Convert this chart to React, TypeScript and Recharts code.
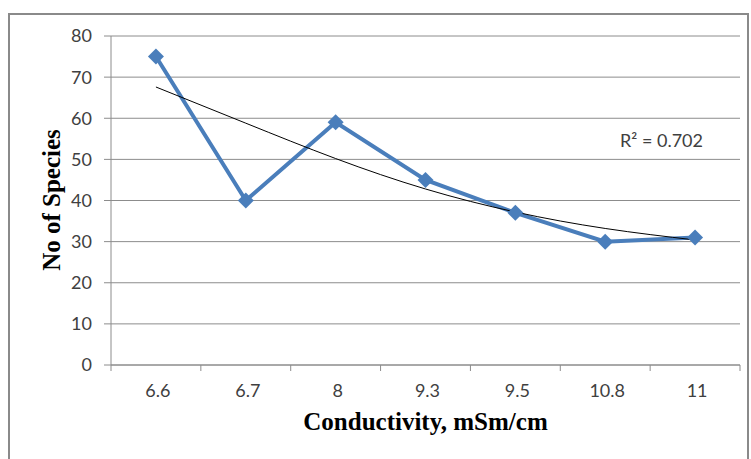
import { CartesianGrid, Line, LineChart, XAxis, YAxis } from "recharts";

// Conductivity classes (category axis) and species counts
const categories = ["6.6", "6.7", "8", "9.3", "9.5", "10.8", "11"];
const speciesCount = [75, 40, 59, 45, 37, 30, 31];
// fitted trend line (R² = 0.702), read at each category
const trendValues = [67.6, 58.8, 50.2, 42.8, 37.2, 33.2, 30.4];
const yTicks = [0, 10, 20, 30, 40, 50, 60, 70, 80];
const rSquared = "R\u00B2 = 0.702";

const W = 751;
const H = 459;
const PLOT_LEFT = 111;
const PLOT_RIGHT = 740;
const BAND = (PLOT_RIGHT - PLOT_LEFT) / categories.length;

const GRID = "#8c8c8c";
const TEXT = "#404040";
const BLUE = "#4a7ebb";
const SANS = "Lato, 'Open Sans', sans-serif";
const SERIF = "'Liberation Serif', serif";

const rows = categories.map((c, i) => ({
  c,
  species: speciesCount[i],
  trend: trendValues[i],
}));

function Diamond(props: any) {
  const { cx, cy, index } = props;
  if (cx == null || cy == null) return <g key={index} />;
  const r = 8;
  return (
    <path
      key={index}
      d={`M${cx},${cy - r}L${cx + r},${cy}L${cx},${cy + r}L${cx - r},${cy}Z`}
      fill={BLUE}
    />
  );
}

function XTick(props: any) {
  const { x, y, payload, index } = props;
  const last = index === categories.length - 1;
  return (
    <g>
      <line x1={x - BAND / 2} x2={x - BAND / 2} y1={y} y2={y + 6} stroke={GRID} />
      {last && (
        <line x1={x + BAND / 2} x2={x + BAND / 2} y1={y} y2={y + 6} stroke={GRID} />
      )}
      <text
        x={x + 2}
        y={y + 19}
        dy="0.71em"
        textAnchor="middle"
        fill={TEXT}
        fontSize={18}
        fontFamily={SANS}
      >
        {payload.value}
      </text>
    </g>
  );
}

export default function App() {
  return (
    <div
      style={{
        position: "absolute",
        left: 0,
        top: 0,
        width: W,
        height: H,
        background: "#fff",
        overflow: "hidden",
      }}
    >
      <div
        style={{
          position: "absolute",
          left: 8,
          top: 13,
          width: 741,
          height: 470,
          border: "2px solid #8a8a8a",
          boxSizing: "border-box",
        }}
      />
      <div style={{ position: "absolute", left: 0, top: 0 }}>
        <LineChart
          width={W}
          height={H}
          data={rows}
          margin={{ top: 36, right: W - PLOT_RIGHT, bottom: H - 365 - 30, left: 0 }}
        >
          <CartesianGrid vertical={false} stroke={GRID} />
          <XAxis
            dataKey="c"
            axisLine={{ stroke: GRID }}
            tickLine={false}
            tick={<XTick />}
            tickSize={0}
            tickMargin={0}
            height={30}
            interval={0}
            padding={{ left: BAND / 2, right: BAND / 2 }}
          />
          <YAxis
            domain={[0, 80]}
            ticks={yTicks}
            width={PLOT_LEFT}
            axisLine={{ stroke: GRID }}
            tickLine={{ stroke: GRID }}
            tickSize={7}
            tickMargin={12}
            tick={{ fill: TEXT, fontSize: 18, fontFamily: SANS }}
          />
          <Line
            dataKey="species"
            stroke={BLUE}
            strokeWidth={4}
            dot={Diamond}
            activeDot={false}
            isAnimationActive={false}
          />
          <Line
            dataKey="trend"
            type="natural"
            stroke="#000"
            strokeWidth={1}
            dot={false}
            activeDot={false}
            isAnimationActive={false}
          />
        </LineChart>
      </div>
      <div
        style={{
          position: "absolute",
          left: 620,
          top: 129,
          fontFamily: SANS,
          fontSize: 18,
          color: TEXT,
          whiteSpace: "nowrap",
        }}
      >
        {rSquared}
      </div>
      <div
        style={{
          position: "absolute",
          left: PLOT_LEFT,
          width: PLOT_RIGHT - PLOT_LEFT,
          top: 408,
          textAlign: "center",
          fontFamily: SERIF,
          fontWeight: "bold",
          fontSize: 25,
          color: "#000",
        }}
      >
        Conductivity, mSm/cm
      </div>
      <div
        style={{
          position: "absolute",
          left: 52,
          top: 200,
          transform: "translate(-50%, -50%) rotate(-90deg)",
          fontFamily: SERIF,
          fontWeight: "bold",
          fontSize: 25,
          color: "#000",
          whiteSpace: "nowrap",
        }}
      >
        No of Species
      </div>
    </div>
  );
}
